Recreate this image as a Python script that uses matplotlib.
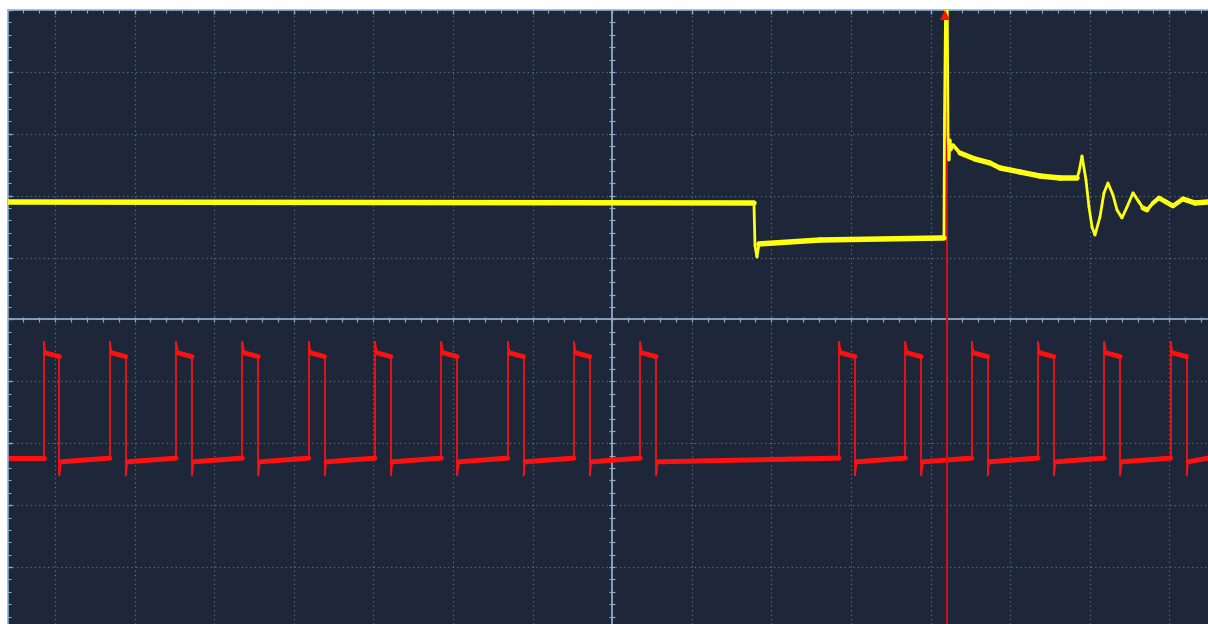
"""Captura de osciloscopio: dos canales sobre la retícula de divisiones.

CH1 (amarillo) y CH2 (rojo) se dibujan en unidades de división,
con la línea de disparo en rojo y la retícula punteada del equipo.
"""

import matplotlib
matplotlib.use("Agg")

import matplotlib.pyplot as plt
import numpy as np
from matplotlib.collections import LineCollection
from matplotlib.ticker import MultipleLocator


# Escala de la pantalla (pixeles por división)
PX_PER_DIV_X = 79.6
PX_PER_DIV_Y = 61.9

X_MIN, X_MAX = -7.59, 7.485
Y_MIN, Y_MAX = -4.92, 5.0

CH1_T = [-7.59, 1.781, 1.794, 1.819, 1.844, 2.611, 4.168, 4.175, 4.193,
         4.206, 4.219, 4.231, 4.244, 4.256, 4.281, 4.369, 4.557, 4.746,
         4.872, 5.123, 5.374, 5.626, 5.839, 5.864, 5.902, 5.952, 5.990,
         6.028, 6.065, 6.128, 6.178, 6.228, 6.291, 6.342, 6.404, 6.467,
         6.543, 6.618, 6.668, 6.719, 6.794, 6.869, 6.957, 7.045, 7.171,
         7.322, 7.485]
CH1_V = [1.898, 1.882, 1.195, 1.010, 1.220, 1.284, 1.317, 3.255, 5.65,
         5.65, 2.981, 2.577, 2.900, 2.738, 2.819, 2.690, 2.593, 2.528,
         2.448, 2.383, 2.318, 2.286, 2.286, 2.383, 2.641, 2.254, 1.817,
         1.494, 1.365, 1.656, 2.044, 2.205, 2.011, 1.769, 1.640, 1.817,
         2.044, 1.898, 1.801, 1.769, 1.882, 1.963, 1.898, 1.834, 1.947,
         1.882, 1.898]

# CH2: flancos de subida del tren de pulsos (div)
CH2_RISE = [-7.144, -6.312, -5.479, -4.646, -3.813, -2.980, -2.147,
            -1.314, -0.481, 0.352, 2.850, 3.683, 4.516, 5.349, 6.182, 7.015]
CH2_WIDTH = 0.20
CH2_LOW_START = -2.30    # nivel bajo justo después de la bajada
CH2_LOW_END = -2.24      # nivel bajo antes de la siguiente subida
CH2_HIGH_START = -0.54
CH2_HIGH_END = -0.60
CH2_OVERSHOOT = -0.36
CH2_UNDERSHOOT = -2.52

TRIGGER_T = 4.206

BG_COLOR = "#1d2739"
GRID_COLOR = "#7189a8"
AXIS_COLOR = "#8ea8c6"
FRAME_COLOR = "#8fb1d6"


def px_to_pt(px):
    return px * 72.0 / 100.0


def build_ch2():
    t = [X_MIN]
    v = [CH2_LOW_END]
    for rise in CH2_RISE:
        fall = rise + CH2_WIDTH
        t += [rise, rise, rise + 0.025, fall, fall, fall + 0.02]
        v += [CH2_LOW_END, CH2_OVERSHOOT, CH2_HIGH_START, CH2_HIGH_END,
              CH2_UNDERSHOOT, CH2_LOW_START]
    t.append(X_MAX)
    v.append(CH2_LOW_END)
    return np.array(t), np.array(v)


def trace_collection(t, v, color, band_px, min_px, zorder):
    """Traza con grosor vertical constante (banda de ruido) y flancos finos."""
    t = np.asarray(t, dtype=float)
    v = np.asarray(v, dtype=float)
    pts = np.column_stack([t, v])
    segs = np.stack([pts[:-1], pts[1:]], axis=1)

    dx = np.diff(t) * PX_PER_DIV_X
    dy = np.diff(v) * PX_PER_DIV_Y
    length = np.hypot(dx, dy)
    cos_a = np.divide(np.abs(dx), length, out=np.zeros_like(dx), where=length > 0)
    widths = np.maximum(band_px * cos_a, min_px)

    return LineCollection(segs, colors=color, linewidths=px_to_pt(widths),
                          capstyle="round", joinstyle="round", zorder=zorder)


def main():
    fig = plt.figure(figsize=(12.08, 6.24), dpi=100, facecolor="white")
    ax = fig.add_axes([8 / 1208, 0, 1200 / 1208, 614 / 624])
    ax.set_facecolor(BG_COLOR)
    ax.set_xlim(X_MIN, X_MAX)
    ax.set_ylim(Y_MIN, Y_MAX)

    # Marco: solo borde izquierdo y superior visibles
    for side in ("right", "bottom"):
        ax.spines[side].set_visible(False)
    for side in ("left", "top"):
        ax.spines[side].set_color(FRAME_COLOR)
        ax.spines[side].set_linewidth(px_to_pt(1.6))

    ax.xaxis.tick_top()
    ax.xaxis.set_major_locator(MultipleLocator(1))
    ax.xaxis.set_minor_locator(MultipleLocator(0.2))
    ax.yaxis.set_major_locator(MultipleLocator(1))
    ax.yaxis.set_minor_locator(MultipleLocator(0.2))
    ax.tick_params(which="both", direction="in", colors=FRAME_COLOR,
                   labelleft=False, labeltop=False, labelbottom=False,
                   right=False, bottom=False)
    ax.tick_params(which="major", length=px_to_pt(4), width=px_to_pt(1.4))
    ax.tick_params(which="minor", length=px_to_pt(3), width=px_to_pt(1.0))

    # Retícula punteada
    ax.grid(which="major", color=GRID_COLOR, linestyle=(0, (1, 3)),
            linewidth=px_to_pt(1.1), alpha=0.85)
    ax.set_axisbelow(True)

    # Ejes centrales con sus marcas
    ax.axhline(0, color=AXIS_COLOR, lw=px_to_pt(1.8), zorder=1)
    ax.axvline(0, color=AXIS_COLOR, lw=px_to_pt(1.8), zorder=1)
    tx = np.arange(-7.4, 7.41, 0.2)
    ty = np.arange(-4.8, 4.81, 0.2)
    hx = 2.8 / PX_PER_DIV_X
    hy = 2.8 / PX_PER_DIV_Y
    ax.vlines(tx, -hy, hy, color=AXIS_COLOR, lw=px_to_pt(1.2), zorder=1)
    ax.hlines(ty, -hx, hx, color=AXIS_COLOR, lw=px_to_pt(1.2), zorder=1)

    # CH2 (rojo)
    t2, v2 = build_ch2()
    ax.add_collection(trace_collection(t2, v2, "#ff1010", band_px=5.0,
                                       min_px=1.7, zorder=2))

    # Línea y marca de disparo
    ax.axvline(TRIGGER_T, color="#d0101c", lw=px_to_pt(2.0), zorder=2.5)
    ax.plot([TRIGGER_T - 0.02], [Y_MAX - 0.08], marker="^", color="#ff1010",
            markersize=7, markeredgewidth=0, zorder=4, clip_on=False)

    # CH1 (amarillo)
    ax.add_collection(trace_collection(CH1_T, CH1_V, "#ffff10", band_px=5.5,
                                       min_px=2.8, zorder=3))

    fig.savefig("out.png", dpi=100, facecolor="white")
    plt.close(fig)


if __name__ == "__main__":
    main()
